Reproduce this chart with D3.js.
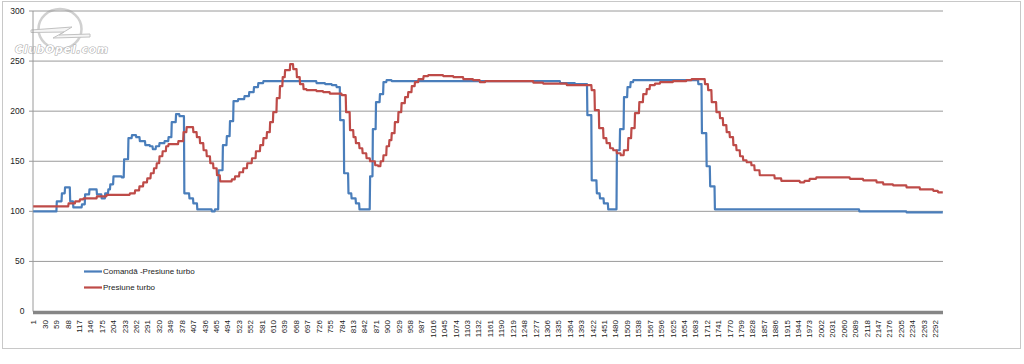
<!DOCTYPE html>
<html><head><meta charset="utf-8">
<script src="https://cdn.jsdelivr.net/npm/d3@7"></script>
<style>html,body{margin:0;padding:0;background:#fff;}svg{display:block;}</style>
</head><body>
<svg id="chart" width="1024" height="364"></svg>
<script>
// ---- data (step runs: run start index -> value) ----
const N = 2312;                       // number of samples (categories 1..N)
const tickStep = 29;                  // category label interval
const yTicks = [0, 50, 100, 150, 200, 250, 300];
const seriesNames = ["Comandă -Presiune turbo", "Presiune turbo"];

const cmdStart = [1, 61, 74, 82, 95, 103, 125, 133, 144, 163, 175, 184, 192, 197, 205, 226, 232, 243, 252, 263, 272, 286, 298, 305, 313, 322, 335, 345, 353, 364, 373, 385, 398, 408, 418, 455, 463, 472, 483, 493, 501, 510, 522, 538, 550, 562, 573, 586, 721, 743, 760, 772, 781, 791, 802, 810, 821, 830, 857, 864, 872, 882, 891, 899, 912, 1340, 1378, 1409, 1420, 1433, 1441, 1451, 1462, 1484, 1492, 1502, 1511, 1519, 1526, 1691, 1700, 1712, 1721, 1733, 2100, 2220];
const cmdValue = [100, 110, 118, 124, 110, 104, 107, 117, 122, 117, 113, 118, 122, 127, 135, 134, 152, 173, 176, 174, 170, 166, 165, 162, 165, 168, 170, 174, 189, 197, 195, 118, 113, 108, 102, 100, 102, 141, 166, 175, 190, 210, 212, 215, 219, 224, 228, 230, 228, 227, 226, 224, 191, 138, 118, 113, 108, 102, 135, 182, 209, 217, 229, 231, 230, 228, 227, 196, 131, 118, 113, 108, 102, 161, 182, 214, 224, 229, 231, 227, 178, 145, 125, 102, 100, 99];

const turboStart = [1, 91, 108, 120, 129, 163, 188, 247, 260, 271, 281, 291, 300, 308, 315, 322, 330, 339, 345, 370, 383, 391, 408, 417, 425, 434, 442, 451, 459, 468, 476, 506, 514, 525, 535, 545, 557, 567, 578, 586, 595, 603, 611, 620, 628, 635, 641, 654, 662, 671, 679, 688, 696, 721, 738, 755, 785, 796, 806, 815, 821, 830, 838, 848, 857, 870, 878, 884, 891, 899, 906, 912, 920, 929, 937, 946, 954, 963, 971, 980, 993, 1005, 1043, 1069, 1094, 1119, 1136, 1150, 1272, 1297, 1357, 1420, 1428, 1439, 1450, 1458, 1467, 1475, 1484, 1494, 1502, 1513, 1521, 1530, 1541, 1551, 1560, 1568, 1581, 1594, 1627, 1661, 1674, 1708, 1716, 1725, 1737, 1746, 1754, 1763, 1771, 1780, 1788, 1797, 1805, 1814, 1826, 1834, 1847, 1885, 1902, 1949, 1961, 1974, 1991, 2076, 2110, 2144, 2161, 2186, 2220, 2254, 2288, 2300];
const turboValue = [105, 108, 110, 112, 113, 115, 116.5, 118, 121, 125, 129, 133, 138, 143, 148, 155, 160, 165, 167, 170, 179, 184, 179, 174, 168, 161, 155, 148, 143, 136, 130, 132, 135, 139, 143, 148, 153, 160, 166, 173, 179, 189, 199, 213, 225, 234, 241, 247, 242, 234, 227, 222, 221, 220, 219, 217.5, 216, 199, 181, 174, 168, 163, 158, 153, 150, 146, 145, 150, 156, 165, 171, 178, 189, 199, 208, 214, 219, 225, 229, 232, 235, 236, 235, 234, 232, 231, 229, 230, 228.5, 227.5, 226, 221, 201, 183, 173, 168, 163, 161, 158, 156, 161, 173, 183, 198, 209, 217, 222, 226, 227.5, 229, 230, 231, 232, 227, 221, 209, 199, 193, 186, 179, 174, 166, 161, 155, 151, 149, 146, 141, 136, 133, 130.5, 129, 130.5, 132.5, 134, 132.5, 131, 129, 127, 126, 124, 122, 120.5, 119];

// expand step runs to one value per category
function expand(starts, values) {
  const out = [];
  let k = 0;
  for (let i = 1; i <= N; i++) {
    while (k + 1 < starts.length && starts[k + 1] <= i) k++;
    out.push({i: i, v: values[k]});
  }
  return out;
}
const cmdData = expand(cmdStart, cmdValue);
const turboData = expand(turboStart, turboValue);
const categories = d3.range(1, N + 1);
const tickLabels = categories.filter(c => (c - 1) % tickStep === 0);

// ---- layout ----
const svg = d3.select("#chart");
const L = 33, R = 943, T = 11, B = 311.5;
const x = d3.scaleBand().domain(categories).range([L, R]).padding(0);
const xc = i => x(i) + x.bandwidth() / 2;
const y = d3.scaleLinear().domain([0, 300]).range([B, T]);

// outer frame
svg.append("rect").attr("x", 2.5).attr("y", 1.5).attr("width", 1018).attr("height", 347)
  .attr("fill", "#fff").attr("stroke", "#c8c8c8").attr("stroke-width", 1);

// watermark logo
const logo = svg.append("g").attr("opacity", 0.85);
logo.append("ellipse").attr("cx", 60).attr("cy", 29).attr("rx", 21.5).attr("ry", 20)
  .attr("fill", "none").attr("stroke", "#c8c8c8").attr("stroke-width", 2.5);
logo.append("path")
  .attr("d", "M31,30 L72,27 L59,35 L90,34 L90,37 L53,38 L64,32 L31,32.5 Z")
  .attr("fill", "#f4f4f4").attr("stroke", "#b8b8b8").attr("stroke-width", 1);
logo.append("text").attr("x", 15).attr("y", 53)
  .attr("font-family", "DejaVu Sans, Verdana, sans-serif").attr("font-size", 10.5)
  .attr("font-weight", "bold").attr("font-style", "italic")
  .attr("fill", "#fff").attr("stroke", "#9a9a9a").attr("stroke-width", 1.1)
  .attr("paint-order", "stroke").attr("textLength", 93).text("ClubOpel.com");

// gridlines + y ticks
const gy = svg.append("g");
gy.selectAll("line.grid").data(yTicks.filter(t => t > 0)).join("line")
  .attr("x1", L - 4).attr("x2", R).attr("y1", d => y(d)).attr("y2", d => y(d))
  .attr("stroke", "#9a9a9a").attr("stroke-width", 1);
gy.selectAll("text").data(yTicks).join("text")
  .attr("x", 24.5).attr("y", d => y(d)).attr("dy", "0.35em")
  .attr("text-anchor", "end").attr("font-family", "Liberation Sans, Arial, sans-serif")
  .attr("font-size", 8.5).attr("fill", "#222").text(d => d);
// y axis line
svg.append("line").attr("x1", L).attr("x2", L).attr("y1", T).attr("y2", B)
  .attr("stroke", "#9a9a9a").attr("stroke-width", 1);

// x axis (thick) and labels
const xAxis = d3.axisBottom(x).tickValues(tickLabels).tickSize(0).tickPadding(0);
const gx = svg.append("g").attr("transform", `translate(0,${B + 1})`).call(xAxis);
gx.select(".domain").remove();
gx.selectAll("text")
  .attr("transform", "rotate(-90)")
  .attr("x", -7.5).attr("y", 0).attr("dy", "0.35em")
  .attr("text-anchor", "end")
  .attr("font-family", "Liberation Sans, Arial, sans-serif")
  .attr("font-size", 8).attr("fill", "#222");
svg.append("line").attr("x1", L).attr("x2", R).attr("y1", B + 1).attr("y2", B + 1)
  .attr("stroke", "#868686").attr("stroke-width", 3.5);

// series
const line = d3.line().x(d => xc(d.i)).y(d => y(d.v));
const colors = ["#4a7ebb", "#be4b48"];
svg.append("path").datum(cmdData).attr("d", line).attr("fill", "none")
  .attr("stroke", colors[0]).attr("stroke-width", 2.2).attr("stroke-linejoin", "round");
svg.append("path").datum(turboData).attr("d", line).attr("fill", "none")
  .attr("stroke", colors[1]).attr("stroke-width", 2.2).attr("stroke-linejoin", "round");

// legend
const lg = svg.append("g");
seriesNames.forEach((name, k) => {
  const yy = 271.5 + k * 16;
  lg.append("line").attr("x1", 84).attr("x2", 102).attr("y1", yy).attr("y2", yy)
    .attr("stroke", colors[k]).attr("stroke-width", 2.2);
  lg.append("text").attr("x", 103).attr("y", yy).attr("dy", "0.35em")
    .attr("font-family", "Liberation Sans, Arial, sans-serif").attr("font-size", 8)
    .attr("fill", "#222").text(name);
});
</script>
</body></html>
